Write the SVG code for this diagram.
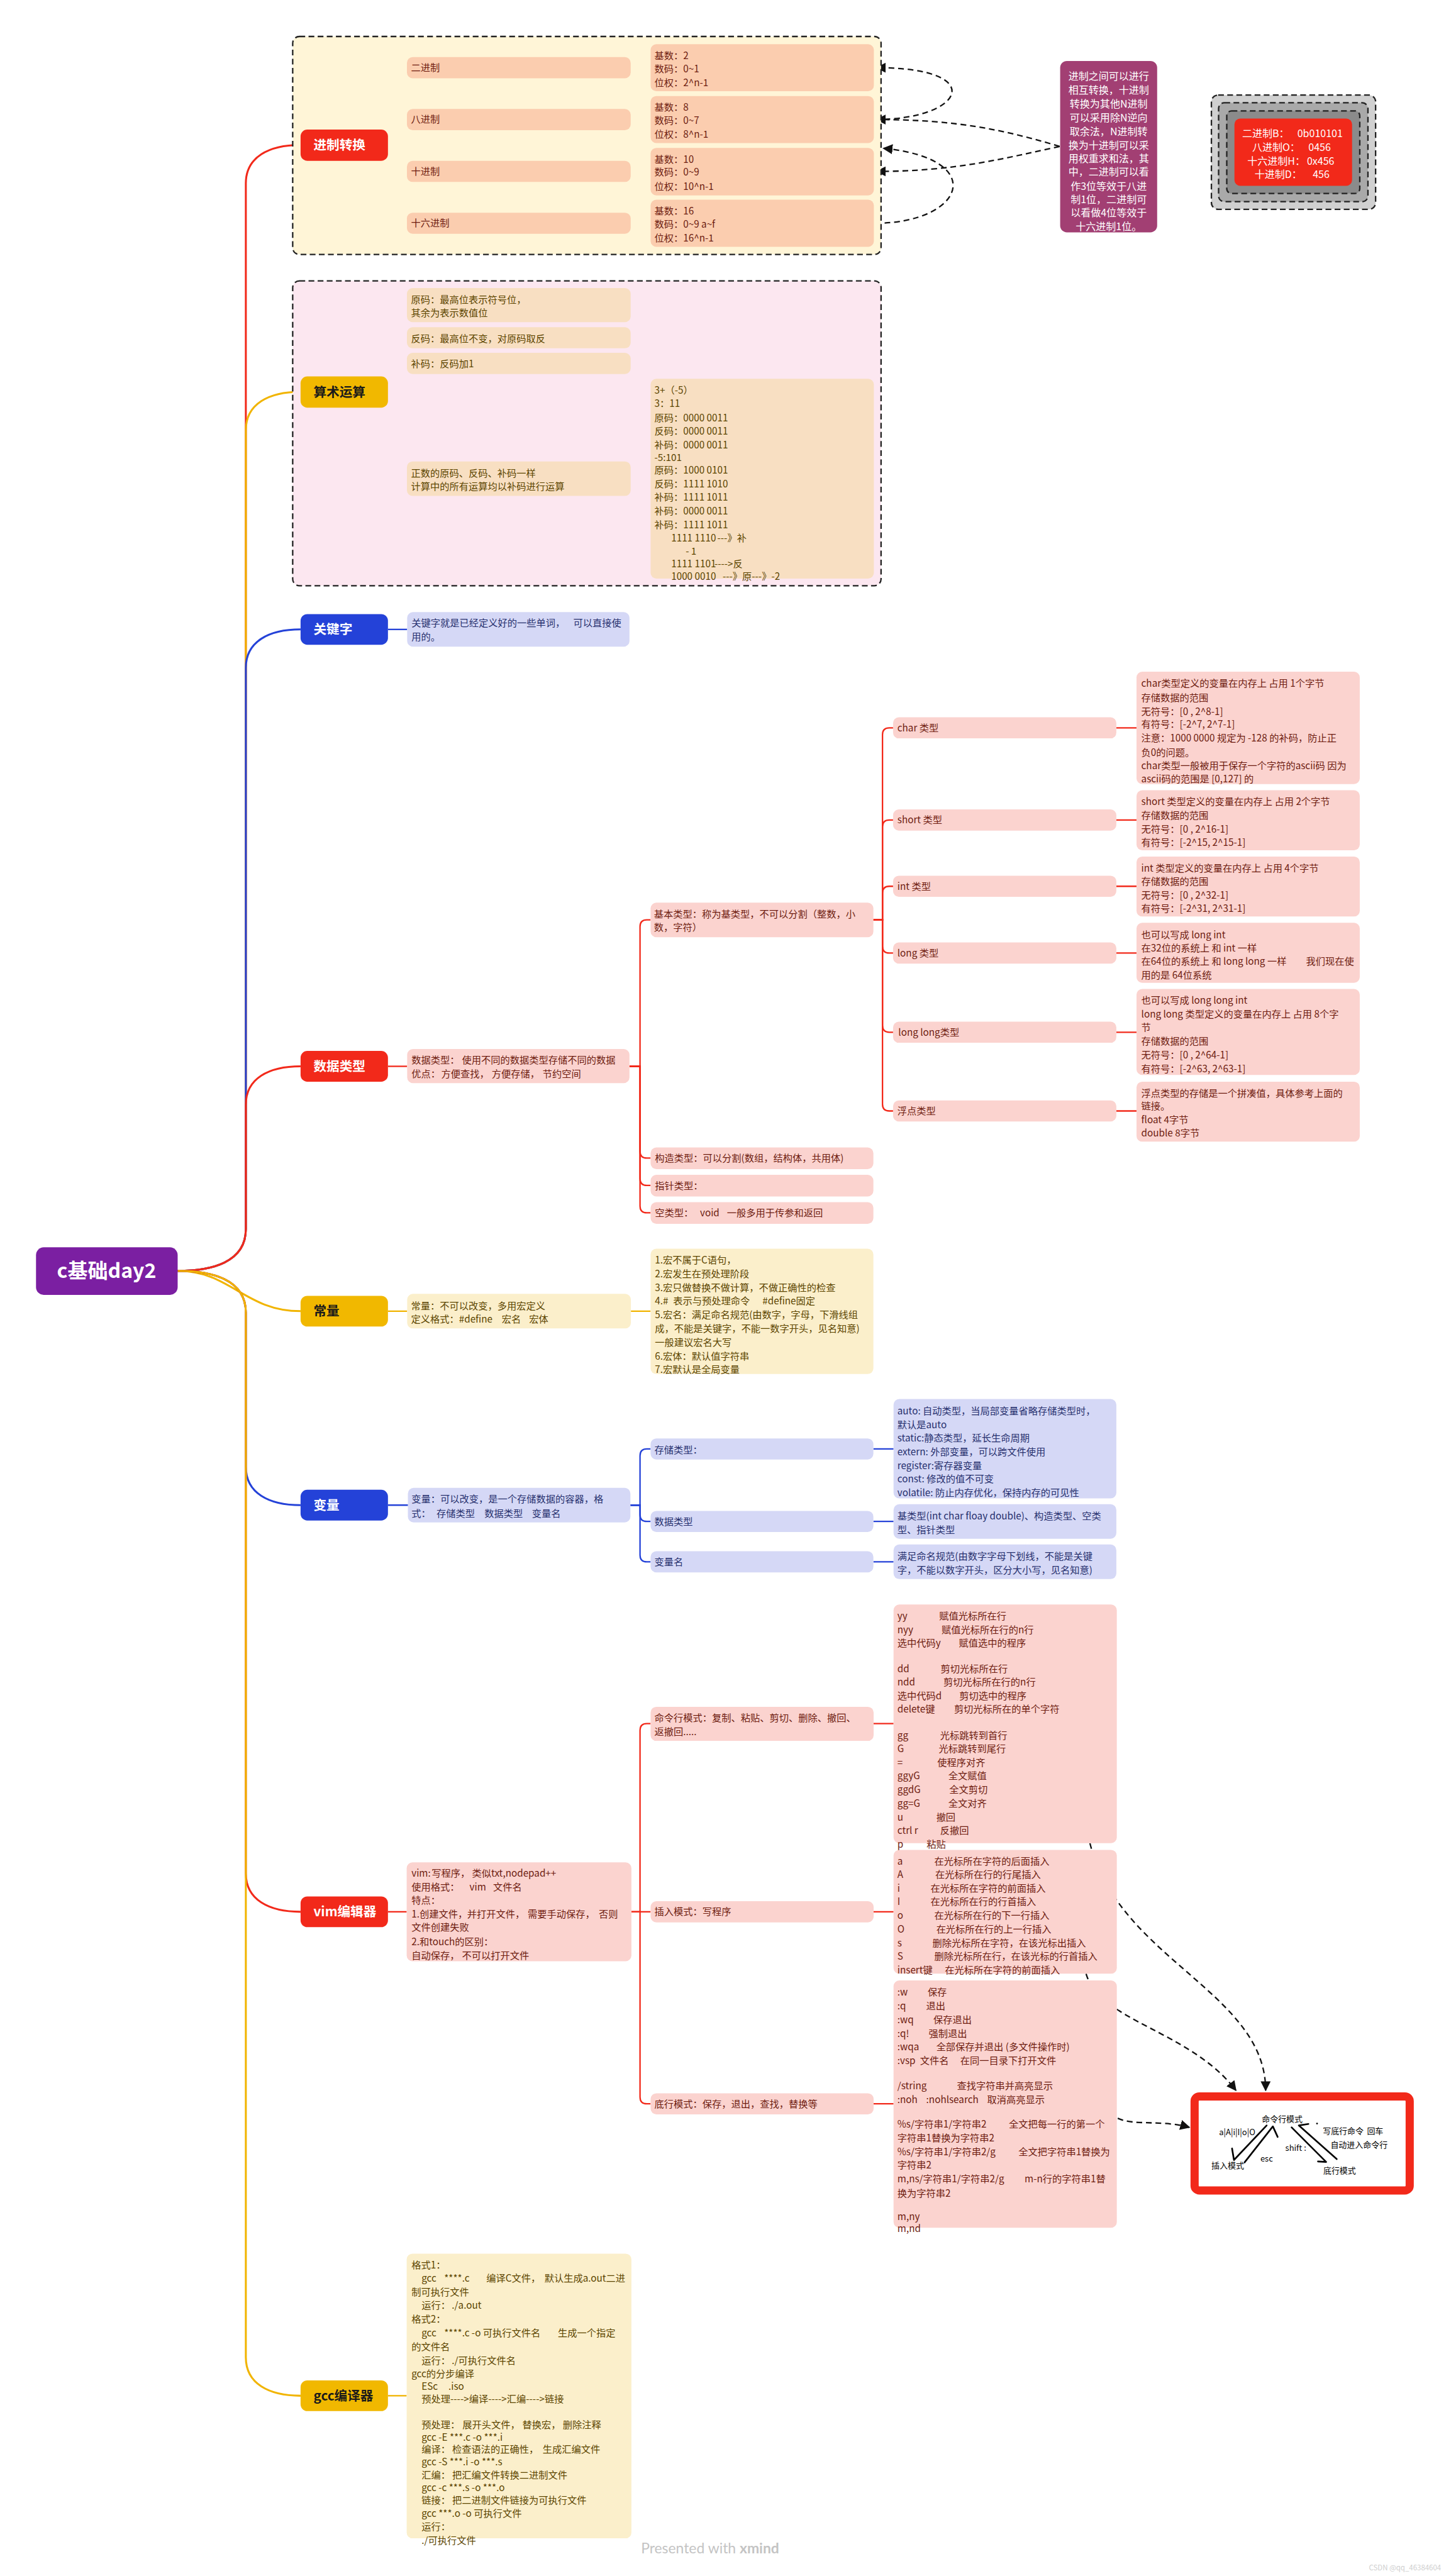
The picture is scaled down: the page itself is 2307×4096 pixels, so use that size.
<svg xmlns="http://www.w3.org/2000/svg" width="2307" height="4096" viewBox="0 0 2307 4096">
<defs>
<style>
text{font-family:"Noto Sans CJK SC","Noto Sans",sans-serif;font-size:20px}
.wr{fill:#6e1c10}.wy{fill:#5c4500}.wb{fill:#27306e}.ww{fill:#ffffff}.wk{fill:#1a1a1a}
.h1{font-size:27px;font-weight:700}
.root{font-size:42px;font-weight:700}
.pu{font-size:21px}
.cR{fill:none;stroke:#f2291a;stroke-width:4}
.cY{fill:none;stroke:#f1b400;stroke-width:4}
.cB{fill:none;stroke:#2442d8;stroke-width:4}
.sR{fill:none;stroke:#f2291a;stroke-width:3}
.sY{fill:none;stroke:#f1b400;stroke-width:3}
.sB{fill:none;stroke:#2442d8;stroke-width:3}
.dash{fill:none;stroke:#111;stroke-width:3;stroke-dasharray:12 8}
.bnd{stroke:#222;stroke-width:3;stroke-dasharray:12 7}
.pe{fill:#fbcdaf}.pt{fill:#f8dfc2}.pk{fill:#fbd3cf}.lv{fill:#d5d8f6}.ly{fill:#fbefcb}
.hand{fill:none;stroke:#000;stroke-width:3.5;stroke-linecap:round;stroke-linejoin:round}
.rb{font-size:17px;fill:#000}
.wm{font-family:Lato,"Noto Sans",sans-serif;font-size:30px;fill:#c4c4c4}
.cs{font-size:15px;fill:#cfcfcf}
</style>
<marker id="ah" viewBox="0 0 10 10" refX="9" refY="5" markerWidth="7" markerHeight="7" orient="auto"><path d="M0,0 L10,5 L0,10 z" fill="#111"/></marker>
</defs>
<rect width="2307" height="4096" fill="#ffffff"/>
<g transform="scale(0.7634)">

<g id="connectors">
<path class="cR" d="M370 2647 C440 2647 512 2630 512 2560 L512 382 C512 327 560 302 626 302"/>
<path class="cY" d="M370 2647 C440 2647 512 2630 512 2560 L512 896 C512 841 560 816 626 816"/>
<path class="cB" d="M370 2647 C440 2647 512 2630 512 2560 L512 1391 C512 1336 560 1311 626 1311"/>
<path class="cR" d="M370 2647 C440 2647 512 2630 512 2560 L512 2301 C512 2246 560 2221 626 2221"/>
<path class="cY" d="M370 2647 C480 2647 510 2731 626 2731"/>
<path class="cB" d="M370 2647 C440 2647 512 2664 512 2734 L512 3055 C512 3110 560 3135 626 3135"/>
<path class="cR" d="M370 2647 C440 2647 512 2664 512 2734 L512 3902 C512 3957 560 3982 626 3982"/>
<path class="cY" d="M370 2647 C440 2647 512 2664 512 2734 L512 4910 C512 4965 560 4990 626 4990"/>
<path class="sR" d="M808 302 H827 V155 Q827 141 841 141 H848"/>
<path class="sR" d="M808 302 H827 V263 Q827 249 841 249 H848"/>
<path class="sR" d="M808 302 H827 V343 Q827 357 841 357 H848"/>
<path class="sR" d="M808 302 H827 V451 Q827 465 841 465 H848"/>
<path class="sR" d="M1313 141 H1355 M1313 249 H1355 M1313 357 H1355 M1313 465 H1355"/>
<path class="sY" d="M808 816 H827 V650 Q827 636 841 636 H848"/>
<path class="sY" d="M808 816 H827 V718 Q827 704 841 704 H848"/>
<path class="sY" d="M808 816 H827 V771 Q827 757 841 757 H848"/>
<path class="sY" d="M808 816 H827 V983 Q827 997 841 997 H848"/>
<path class="sY" d="M1313 997 H1355"/>
<path class="sB" d="M808 1311 H848"/>
<path class="sR" d="M808 2221 H848"/>
<path class="sR" d="M1311 2221 H1333 V1930 Q1333 1916 1347 1916 H1355"/>
<path class="sR" d="M1311 2221 H1333 V2398 Q1333 2412 1347 2412 H1355"/>
<path class="sR" d="M1311 2221 H1333 V2455 Q1333 2469 1347 2469 H1355"/>
<path class="sR" d="M1311 2221 H1333 V2512 Q1333 2526 1347 2526 H1355"/>
<path class="sR" d="M1819 1916 H1838 V1530 Q1838 1516 1852 1516 H1860"/>
<path class="sR" d="M1819 1916 H1838 V1722 Q1838 1708 1852 1708 H1860"/>
<path class="sR" d="M1819 1916 H1838 V1860 Q1838 1846 1852 1846 H1860"/>
<path class="sR" d="M1819 1916 H1838 V1971 Q1838 1985 1852 1985 H1860"/>
<path class="sR" d="M1819 1916 H1838 V2136 Q1838 2150 1852 2150 H1860"/>
<path class="sR" d="M1819 1916 H1838 V2300 Q1838 2314 1852 2314 H1860"/>
<path class="sR" d="M2325 1516 H2367 M2325 1708 H2367 M2325 1846 H2367 M2325 1985 H2367 M2325 2150 H2367 M2325 2314 H2367"/>
<path class="sY" d="M808 2731 H848 M1314 2731 H1355"/>
<path class="sB" d="M808 3135 H850"/>
<path class="sB" d="M1313 3135 H1333 V3032 Q1333 3018 1347 3018 H1355"/>
<path class="sB" d="M1313 3135 H1333 V3155 Q1333 3169 1347 3169 H1355"/>
<path class="sB" d="M1313 3135 H1333 V3239 Q1333 3253 1347 3253 H1355"/>
<path class="sB" d="M1819 3018 H1861 M1819 3169 H1861 M1819 3253 H1861"/>
<path class="sR" d="M808 3982 H847"/>
<path class="sR" d="M1315 3982 H1333 V3604 Q1333 3590 1347 3590 H1355"/>
<path class="sR" d="M1315 3982 H1355"/>
<path class="sR" d="M1315 3982 H1333 V4368 Q1333 4382 1347 4382 H1355"/>
<path class="sR" d="M1819 3590 H1861 M1819 3982 H1861 M1819 4382 H1861"/>
<path class="sY" d="M808 4990 H847"/>
<path class="dash" marker-end="url(#ah)" d="M1822 249 C2010 249 2060 141 1826 141"/>
<path class="dash" marker-end="url(#ah)" d="M2207 305 C2090 270 1990 249 1826 249"/>
<path class="dash" marker-end="url(#ah)" d="M2207 305 C2090 330 1990 357 1826 357"/>
<path class="dash" marker-end="url(#ah)" d="M1822 465 C2010 465 2060 330 1840 309"/>
<path class="dash" marker-end="url(#ah)" d="M2270 3839 C2330 4080 2636 4150 2636 4354"/>
<path class="dash" marker-end="url(#ah)" d="M2262 4111 C2290 4210 2480 4230 2574 4354"/>
<path class="dash" marker-end="url(#ah)" d="M2328 4412 C2360 4428 2420 4415 2477 4431"/>
</g>

<g id="root">
<rect x="75" y="2598" width="295" height="99" rx="16" fill="#7b1fa2"/>
<text x="222" y="2662" text-anchor="middle" class="root ww">c基础day2</text>
</g>

<g id="jinzhi">
<rect x="609.6" y="76" width="1225.4" height="454" rx="14" fill="#fff5d7" class="bnd"/>
<rect x="626" y="270" width="182" height="65" rx="14" fill="#f2291a"/>
<text x="653" y="312" class="h1 ww">进制转换</text>
<rect class="pe" x="847.5" y="119" width="466" height="44" rx="12"/>
<rect class="pe" x="847.5" y="227" width="466" height="44" rx="12"/>
<rect class="pe" x="847.5" y="335" width="466" height="44" rx="12"/>
<rect class="pe" x="847.5" y="443" width="466" height="44" rx="12"/>
<text class="wr" x="856" y="148">二进制</text>
<text class="wr" x="856" y="256">八进制</text>
<text class="wr" x="856" y="364">十进制</text>
<text class="wr" x="856" y="472">十六进制</text>
<rect class="pe" x="1355" y="92" width="465" height="98" rx="12"/>
<rect class="pe" x="1355" y="200" width="465" height="98" rx="12"/>
<rect class="pe" x="1355" y="308" width="465" height="99" rx="12"/>
<rect class="pe" x="1355" y="416" width="465" height="98" rx="12"/>
<text class="wr" x="1363" y="123">基数：2</text>
<text class="wr" x="1363" y="151">数码：0~1</text>
<text class="wr" x="1363" y="179">位权：2^n-1</text>
<text class="wr" x="1363" y="230">基数：8</text>
<text class="wr" x="1363" y="258">数码：0~7</text>
<text class="wr" x="1363" y="287">位权：8^n-1</text>
<text class="wr" x="1363" y="339">基数：10</text>
<text class="wr" x="1363" y="366">数码：0~9</text>
<text class="wr" x="1363" y="395">位权：10^n-1</text>
<text class="wr" x="1363" y="447">基数：16</text>
<text class="wr" x="1363" y="474">数码：0~9 a~f</text>
<text class="wr" x="1363" y="503">位权：16^n-1</text>
</g>

<g id="note-jinzhi">
<rect x="2208" y="127" width="202" height="357" rx="14" fill="#a23f73"/>
<text class="ww pu" x="2309" y="166" text-anchor="middle">进制之间可以进行</text>
<text class="ww pu" x="2309" y="195" text-anchor="middle">相互转换，十进制</text>
<text class="ww pu" x="2309" y="224" text-anchor="middle">转换为其他N进制</text>
<text class="ww pu" x="2309" y="253" text-anchor="middle">可以采用除N逆向</text>
<text class="ww pu" x="2309" y="281" text-anchor="middle">取余法，N进制转</text>
<text class="ww pu" x="2309" y="310" text-anchor="middle">换为十进制可以采</text>
<text class="ww pu" x="2309" y="338" text-anchor="middle">用权重求和法，其</text>
<text class="ww pu" x="2309" y="366" text-anchor="middle">中，二进制可以看</text>
<text class="ww pu" x="2309" y="395" text-anchor="middle">作3位等效于八进</text>
<text class="ww pu" x="2309" y="423" text-anchor="middle">制1位，二进制可</text>
<text class="ww pu" x="2309" y="451" text-anchor="middle">以看做4位等效于</text>
<text class="ww pu" x="2309" y="480" text-anchor="middle">十六进制1位。</text>
</g>

<g id="note-bases">
<rect x="2523" y="198" width="342" height="238" rx="14" fill="#d0d0d0" class="bnd"/>
<rect x="2538" y="214" width="311" height="206" rx="12" fill="#a9a9a9" class="bnd"/>
<rect x="2555" y="231" width="277" height="172" rx="10" fill="#8b8b8b" class="bnd"/>
<rect x="2571" y="247" width="245" height="140" rx="12" fill="#f2291a"/>
<text class="ww pu" y="286"><tspan x="2587">二进制B：</tspan><tspan x="2702">0b010101</tspan></text>
<text class="ww pu" y="314"><tspan x="2608">八进制O：</tspan><tspan x="2725">0456</tspan></text>
<text class="ww pu" y="343"><tspan x="2598">十六进制H：</tspan><tspan x="2722">0x456</tspan></text>
<text class="ww pu" y="371"><tspan x="2613">十进制D：</tspan><tspan x="2734">456</tspan></text>
</g>

<g id="suanshu">
<rect x="609.6" y="585" width="1225.4" height="635" rx="14" fill="#fce7f0" class="bnd"/>
<rect x="626" y="784" width="182" height="65" rx="14" fill="#f1b800"/>
<text x="653" y="826" class="h1 wk">算术运算</text>
<rect class="pt" x="847.5" y="600" width="466" height="71" rx="12"/>
<rect class="pt" x="847.5" y="681.5" width="466" height="44" rx="12"/>
<rect class="pt" x="847.5" y="735" width="466" height="44" rx="12"/>
<rect class="pt" x="847.5" y="961" width="466" height="72" rx="12"/>
<text class="wy" x="856" y="631">原码：最高位表示符号位，</text>
<text class="wy" x="856" y="659">其余为表示数值位</text>
<text class="wy" x="856" y="712">反码：最高位不变，对原码取反</text>
<text class="wy" x="856" y="765">补码：反码加1</text>
<text class="wy" x="856" y="993">正数的原码、反码、补码一样</text>
<text class="wy" x="856" y="1020">计算中的所有运算均以补码进行运算</text>
<rect class="pt" x="1355" y="789" width="465" height="416" rx="12"/>
<text class="wy" x="1363" y="820">3+（-5）</text>
<text class="wy" x="1363" y="848">3：11</text>
<text class="wy" x="1363" y="877">原码：0000 0011</text>
<text class="wy" x="1363" y="905">反码：0000 0011</text>
<text class="wy" x="1363" y="934">补码：0000 0011</text>
<text class="wy" x="1363" y="960">-5:101</text>
<text class="wy" x="1363" y="987">原码：1000 0101</text>
<text class="wy" x="1363" y="1015">反码：1111 1010</text>
<text class="wy" x="1363" y="1043">补码：1111 1011</text>
<text class="wy" x="1363" y="1072">补码：0000 0011</text>
<text class="wy" x="1363" y="1100">补码：1111 1011</text>
<text class="wy" y="1128"><tspan x="1398">1111 1110</tspan><tspan x="1494">---》补</tspan></text>
<text class="wy" x="1428" y="1155">- 1</text>
<text class="wy" y="1182"><tspan x="1398">1111 1101</tspan><tspan x="1488">----&gt;反</tspan></text>
<text class="wy" y="1208"><tspan x="1398">1000 0010</tspan><tspan x="1505">---》原---》-2</tspan></text>
</g>

<g id="guanjianzi">
<rect x="626" y="1279" width="182" height="64" rx="14" fill="#2442d8"/>
<text x="653" y="1321" class="h1 ww">关键字</text>
<rect class="lv" x="848" y="1275" width="463" height="72" rx="12"/>
<text class="wb" y="1305"><tspan x="857">关键字就是已经定义好的一些单词，</tspan><tspan x="1194">可以直接使</tspan></text>
<text class="wb" x="857" y="1334">用的。</text>
</g>

<g id="shujuleixing">
<rect x="626" y="2189" width="182" height="64" rx="14" fill="#f2291a"/>
<text x="653" y="2231" class="h1 ww">数据类型</text>
<rect class="pk" x="848" y="2185" width="463" height="71" rx="12"/>
<text class="wr" y="2215"><tspan x="857">数据类型：</tspan><tspan x="962">使用不同的数据类型存储不同的数据</tspan></text>
<text class="wr" y="2244"><tspan x="857">优点：</tspan><tspan x="919">方便查找，</tspan><tspan x="1024">方便存储，</tspan><tspan x="1130">节约空间</tspan></text>
<rect class="pk" x="1355" y="1880" width="464" height="72" rx="12"/>
<text class="wr" x="1362" y="1911">基本类型：称为基类型，不可以分割（整数，小</text>
<text class="wr" x="1362" y="1939">数，字符）</text>
<rect class="pk" x="1355" y="2390" width="464" height="45" rx="12"/>
<text class="wr" x="1364" y="2420">构造类型：可以分割(数组，结构体，共用体)</text>
<rect class="pk" x="1355" y="2447" width="464" height="45" rx="12"/>
<text class="wr" x="1364" y="2477">指针类型：</text>
<rect class="pk" x="1355" y="2504" width="464" height="45" rx="12"/>
<text class="wr" y="2534"><tspan x="1364">空类型：</tspan><tspan x="1458">void</tspan><tspan x="1514">一般多用于传参和返回</tspan></text>

<rect class="pk" x="1860" y="1494" width="465" height="44" rx="12"/>
<text class="wr" x="1869" y="1523">char 类型</text>
<rect class="pk" x="1860" y="1686" width="465" height="44" rx="12"/>
<text class="wr" x="1869" y="1715">short 类型</text>
<rect class="pk" x="1860" y="1824" width="465" height="44" rx="12"/>
<text class="wr" x="1869" y="1853">int 类型</text>
<rect class="pk" x="1860" y="1963" width="465" height="44" rx="12"/>
<text class="wr" x="1869" y="1992">long 类型</text>
<rect class="pk" x="1860" y="2128" width="465" height="44" rx="12"/>
<text class="wr" x="1871" y="2157">long long类型</text>
<rect class="pk" x="1860" y="2292" width="465" height="44" rx="12"/>
<text class="wr" x="1869" y="2321">浮点类型</text>

<rect class="pk" x="2367" y="1399" width="465" height="234" rx="12"/>
<text class="wr" x="2377" y="1430">char类型定义的变量在内存上 占用 1个字节</text>
<text class="wr" x="2377" y="1460">存储数据的范围</text>
<text class="wr" x="2377" y="1489">无符号：[0 , 2^8-1]</text>
<text class="wr" x="2377" y="1516">有符号：[-2^7, 2^7-1]</text>
<text class="wr" x="2377" y="1545">注意：1000 0000 规定为 -128 的补码，防止正</text>
<text class="wr" x="2377" y="1574">负0的问题。</text>
<text class="wr" x="2377" y="1602">char类型一般被用于保存一个字符的ascii码 因为</text>
<text class="wr" x="2377" y="1630">ascii码的范围是 [0,127] 的</text>
<rect class="pk" x="2367" y="1646" width="465" height="125" rx="12"/>
<text class="wr" x="2377" y="1677">short 类型定义的变量在内存上 占用 2个字节</text>
<text class="wr" x="2377" y="1705">存储数据的范围</text>
<text class="wr" x="2377" y="1734">无符号：[0 , 2^16-1]</text>
<text class="wr" x="2377" y="1762">有符号：[-2^15, 2^15-1]</text>
<rect class="pk" x="2367" y="1784" width="465" height="125" rx="12"/>
<text class="wr" x="2377" y="1815">int 类型定义的变量在内存上 占用 4个字节</text>
<text class="wr" x="2377" y="1843">存储数据的范围</text>
<text class="wr" x="2377" y="1872">无符号：[0 , 2^32-1]</text>
<text class="wr" x="2377" y="1900">有符号：[-2^31, 2^31-1]</text>
<rect class="pk" x="2367" y="1922" width="465" height="125" rx="12"/>
<text class="wr" x="2377" y="1954">也可以写成 long int</text>
<text class="wr" x="2377" y="1982">在32位的系统上 和 int 一样</text>
<text class="wr" y="2010"><tspan x="2377">在64位的系统上 和 long long 一样</tspan><tspan x="2720">我们现在使</tspan></text>
<text class="wr" x="2377" y="2038">用的是 64位系统</text>
<rect class="pk" x="2367" y="2060" width="465" height="179" rx="12"/>
<text class="wr" x="2377" y="2091">也可以写成 long long int</text>
<text class="wr" x="2377" y="2119">long long 类型定义的变量在内存上 占用 8个字</text>
<text class="wr" x="2377" y="2147">节</text>
<text class="wr" x="2377" y="2176">存储数据的范围</text>
<text class="wr" x="2377" y="2205">无符号：[0 , 2^64-1]</text>
<text class="wr" x="2377" y="2233">有符号：[-2^63, 2^63-1]</text>
<rect class="pk" x="2367" y="2253" width="465" height="125" rx="12"/>
<text class="wr" x="2377" y="2284">浮点类型的存储是一个拼凑值，具体参考上面的</text>
<text class="wr" x="2377" y="2311">链接。</text>
<text class="wr" x="2377" y="2340">float 4字节</text>
<text class="wr" x="2377" y="2367">double 8字节</text>
</g>

<g id="changliang">
<rect x="626" y="2699" width="182" height="64" rx="14" fill="#f1b800"/>
<text x="653" y="2741" class="h1 wk">常量</text>
<rect class="ly" x="848" y="2695" width="466" height="72" rx="12"/>
<text class="wy" x="856" y="2727">常量：不可以改变，多用宏定义</text>
<text class="wy" y="2755"><tspan x="856">定义格式：#define</tspan><tspan x="1045">宏名</tspan><tspan x="1102">宏体</tspan></text>
<rect class="ly" x="1355" y="2601" width="464" height="261" rx="12"/>
<text class="wy" x="1364" y="2632">1.宏不属于C语句，</text>
<text class="wy" x="1364" y="2660">2.宏发生在预处理阶段</text>
<text class="wy" x="1364" y="2689">3.宏只做替换不做计算，不做正确性的检查</text>
<text class="wy" y="2717"><tspan x="1364">4.#</tspan><tspan x="1402">表示与预处理命令</tspan><tspan x="1588">#define固定</tspan></text>
<text class="wy" x="1364" y="2745">5.宏名：满足命名规范(由数字，字母，下滑线组</text>
<text class="wy" x="1364" y="2774">成，不能是关键字，不能一数字开头，见名知意)</text>
<text class="wy" x="1364" y="2803">一般建议宏名大写</text>
<text class="wy" x="1364" y="2832">6.宏体：默认值字符串</text>
<text class="wy" x="1364" y="2860">7.宏默认是全局变量</text>
</g>

<g id="bianliang">
<rect x="626" y="3103" width="182" height="64" rx="14" fill="#2442d8"/>
<text x="653" y="3145" class="h1 ww">变量</text>
<rect class="lv" x="849.5" y="3099" width="463.5" height="72" rx="12"/>
<text class="wb" x="857" y="3130">变量：可以改变，是一个存储数据的容器，格</text>
<text class="wb" y="3159"><tspan x="857">式：</tspan><tspan x="909">存储类型</tspan><tspan x="1009">数据类型</tspan><tspan x="1108">变量名</tspan></text>
<rect class="lv" x="1355" y="2996" width="464" height="44" rx="12"/>
<text class="wb" x="1363" y="3027">存储类型：</text>
<rect class="lv" x="1355" y="3147" width="464" height="44" rx="12"/>
<text class="wb" x="1363" y="3177">数据类型</text>
<rect class="lv" x="1355" y="3231" width="464" height="44" rx="12"/>
<text class="wb" x="1363" y="3261">变量名</text>
<rect class="lv" x="1861" y="2914" width="464" height="207" rx="12"/>
<text class="wb" x="1869" y="2946">auto: 自动类型，当局部变量省略存储类型时，</text>
<text class="wb" x="1869" y="2975">默认是auto</text>
<text class="wb" x="1869" y="3003">static:静态类型，延长生命周期</text>
<text class="wb" x="1869" y="3031">extern: 外部变量，可以跨文件使用</text>
<text class="wb" x="1869" y="3060">register:寄存器变量</text>
<text class="wb" x="1869" y="3088">const: 修改的值不可变</text>
<text class="wb" x="1869" y="3116">volatile: 防止内存优化，保持内存的可见性</text>
<rect class="lv" x="1861" y="3133" width="464" height="72" rx="12"/>
<text class="wb" x="1869" y="3165">基类型(int char floay double)、构造类型、空类</text>
<text class="wb" x="1869" y="3193">型、指针类型</text>
<rect class="lv" x="1861" y="3217" width="464" height="72" rx="12"/>
<text class="wb" x="1869" y="3249">满足命名规范(由数字字母下划线，不能是关键</text>
<text class="wb" x="1869" y="3277">字，不能以数字开头，区分大小写，见名知意)</text>
</g>

<g id="vim">
<rect x="626" y="3950" width="182" height="64" rx="14" fill="#f2291a"/>
<text x="653" y="3992" class="h1 ww">vim编辑器</text>
<rect class="pk" x="847" y="3879" width="468" height="206" rx="12"/>
<text class="wr" y="3909"><tspan x="857">vim:</tspan><tspan x="899">写程序，</tspan><tspan x="983">类似txt,nodepad++</tspan></text>
<text class="wr" y="3937"><tspan x="857">使用格式：</tspan><tspan x="978">vim</tspan><tspan x="1027">文件名</tspan></text>
<text class="wr" x="857" y="3965">特点：</text>
<text class="wr" y="3994"><tspan x="857">1.创建文件，</tspan><tspan x="973">并打开文件，</tspan><tspan x="1099">需要手动保存，</tspan><tspan x="1247">否则</tspan></text>
<text class="wr" x="857" y="4022">文件创建失败</text>
<text class="wr" x="857" y="4052">2.和touch的区别：</text>
<text class="wr" y="4081"><tspan x="857">自动保存，</tspan><tspan x="962">不可以打开文件</tspan></text>

<rect class="pk" x="1355" y="3555" width="464.5" height="71" rx="12"/>
<text class="wr" x="1363" y="3585">命令行模式：复制、粘贴、剪切、删除、撤回、</text>
<text class="wr" x="1363" y="3614">返撤回.....</text>
<rect class="pk" x="1355" y="3960" width="464.5" height="44" rx="12"/>
<text class="wr" x="1363" y="3989">插入模式：写程序</text>
<rect class="pk" x="1355" y="4360" width="464.5" height="44" rx="12"/>
<text class="wr" x="1363" y="4389">底行模式：保存，退出，查找，替换等</text>

<rect class="pk" x="1861" y="3342" width="465" height="497" rx="12"/>
<text class="wr" y="3373"><tspan x="1869">yy</tspan><tspan x="1956">赋值光标所在行</tspan></text>
<text class="wr" y="3402"><tspan x="1869">nyy</tspan><tspan x="1961">赋值光标所在行的n行</tspan></text>
<text class="wr" y="3430"><tspan x="1869">选中代码y</tspan><tspan x="1997">赋值选中的程序</tspan></text>
<text class="wr" y="3483"><tspan x="1869">dd</tspan><tspan x="1959">剪切光标所在行</tspan></text>
<text class="wr" y="3511"><tspan x="1869">ndd</tspan><tspan x="1965">剪切光标所在行的n行</tspan></text>
<text class="wr" y="3540"><tspan x="1869">选中代码d</tspan><tspan x="1998">剪切选中的程序</tspan></text>
<text class="wr" y="3567"><tspan x="1869">delete键</tspan><tspan x="1987">剪切光标所在的单个字符</tspan></text>
<text class="wr" y="3622"><tspan x="1869">gg</tspan><tspan x="1958">光标跳转到首行</tspan></text>
<text class="wr" y="3650"><tspan x="1869">G</tspan><tspan x="1955">光标跳转到尾行</tspan></text>
<text class="wr" y="3678"><tspan x="1869">=</tspan><tspan x="1952">使程序对齐</tspan></text>
<text class="wr" y="3706"><tspan x="1869">ggyG</tspan><tspan x="1975">全文赋值</tspan></text>
<text class="wr" y="3735"><tspan x="1869">ggdG</tspan><tspan x="1977">全文剪切</tspan></text>
<text class="wr" y="3763"><tspan x="1869">gg=G</tspan><tspan x="1975">全文对齐</tspan></text>
<text class="wr" y="3792"><tspan x="1869">u</tspan><tspan x="1950">撤回</tspan></text>
<text class="wr" y="3820"><tspan x="1869">ctrl r</tspan><tspan x="1958">反撤回</tspan></text>
<text class="wr" y="3849"><tspan x="1869">p</tspan><tspan x="1930">粘贴</tspan></text>

<rect class="pk" x="1861" y="3853" width="465" height="258" rx="12"/>
<text class="wr" y="3884"><tspan x="1869">a</tspan><tspan x="1946">在光标所在字符的后面插入</tspan></text>
<text class="wr" y="3912"><tspan x="1869">A</tspan><tspan x="1948">在光标所在行的行尾插入</tspan></text>
<text class="wr" y="3940"><tspan x="1869">i</tspan><tspan x="1938">在光标所在字符的前面插入</tspan></text>
<text class="wr" y="3968"><tspan x="1869">I</tspan><tspan x="1938">在光标所在行的行首插入</tspan></text>
<text class="wr" y="3997"><tspan x="1869">o</tspan><tspan x="1946">在光标所在行的下一行插入</tspan></text>
<text class="wr" y="4026"><tspan x="1869">O</tspan><tspan x="1950">在光标所在行的上一行插入</tspan></text>
<text class="wr" y="4054"><tspan x="1869">s</tspan><tspan x="1942">删除光标所在字符，在该光标出插入</tspan></text>
<text class="wr" y="4082"><tspan x="1869">S</tspan><tspan x="1946">删除光标所在行，在该光标的行首插入</tspan></text>
<text class="wr" y="4111"><tspan x="1869">insert键</tspan><tspan x="1968">在光标所在字符的前面插入</tspan></text>

<rect class="pk" x="1861" y="4125" width="465" height="515" rx="12"/>
<text class="wr" y="4157"><tspan x="1869">:w</tspan><tspan x="1932">保存</tspan></text>
<text class="wr" y="4185"><tspan x="1869">:q</tspan><tspan x="1929">退出</tspan></text>
<text class="wr" y="4214"><tspan x="1869">:wq</tspan><tspan x="1944">保存退出</tspan></text>
<text class="wr" y="4243"><tspan x="1869">:q!</tspan><tspan x="1934">强制退出</tspan></text>
<text class="wr" y="4270"><tspan x="1869">:wqa</tspan><tspan x="1950">全部保存并退出 (多文件操作时)</tspan></text>
<text class="wr" y="4299"><tspan x="1869">:vsp</tspan><tspan x="1916">文件名</tspan><tspan x="2000">在同一目录下打开文件</tspan></text>
<text class="wr" y="4351"><tspan x="1869">/string</tspan><tspan x="1993">查找字符串并高亮显示</tspan></text>
<text class="wr" y="4380"><tspan x="1869">:noh</tspan><tspan x="1929">:nohlsearch</tspan><tspan x="2056">取消高亮显示</tspan></text>
<text class="wr" y="4432"><tspan x="1869">%s/字符串1/字符串2</tspan><tspan x="2101">全文把每一行的第一个</tspan></text>
<text class="wr" x="1869" y="4460">字符串1替换为字符串2</text>
<text class="wr" y="4489"><tspan x="1869">%s/字符串1/字符串2/g</tspan><tspan x="2121">全文把字符串1替换为</tspan></text>
<text class="wr" x="1869" y="4517">字符串2</text>
<text class="wr" y="4546"><tspan x="1869">m,ns/字符串1/字符串2/g</tspan><tspan x="2134">m-n行的字符串1替</tspan></text>
<text class="wr" x="1869" y="4575">换为字符串2</text>
<text class="wr" x="1869" y="4624">m,ny</text>
<text class="wr" x="1869" y="4649">m,nd</text>
</g>

<g id="vim-modes">
<rect x="2488" y="4366.5" width="448" height="196" rx="10" fill="#ffffff" stroke="#f2291a" stroke-width="17"/>
<text class="rb" x="2628" y="4420">命令行模式</text>
<text class="rb" x="2539" y="4447">a|A|i|I|o|O</text>
<text class="rb" x="2523" y="4517">插入模式</text>
<text class="rb" x="2625" y="4502">esc</text>
<text class="rb" x="2677" y="4480">shift :</text>
<text class="rb" y="4444"><tspan x="2755">写底行命令</tspan><tspan x="2847">回车</tspan></text>
<text class="rb" x="2771" y="4473">自动进入命令行</text>
<text class="rb" x="2756" y="4527">底行模式</text>
<circle cx="2743" cy="4423" r="1.8" fill="#000"/>
<path class="hand" d="M2638 4427 L2570 4499 M2566 4475 L2570 4499"/>
<path class="hand" d="M2592 4504 L2651 4429 L2661 4451"/>
<path class="hand" d="M2690 4431 L2762 4503 L2745 4502"/>
<path class="hand" d="M2784 4497 L2705 4427 L2725 4424"/>
</g>

<g id="gcc">
<rect x="626" y="4958" width="182" height="64" rx="14" fill="#f1b800"/>
<text x="653" y="5000" class="h1 wk">gcc编译器</text>
<rect class="ly" x="847" y="4694" width="468" height="593" rx="12"/>
<text class="wy" x="857" y="4725">格式1：</text>
<text class="wy" y="4753"><tspan x="878">gcc</tspan><tspan x="925">****.c</tspan><tspan x="1013">编译C文件，</tspan><tspan x="1134">默认生成a.out二进</tspan></text>
<text class="wy" x="857" y="4781">制可执行文件</text>
<text class="wy" y="4809"><tspan x="878">运行：</tspan><tspan x="941">./a.out</tspan></text>
<text class="wy" x="857" y="4837">格式2：</text>
<text class="wy" y="4867"><tspan x="878">gcc</tspan><tspan x="925">****.c  -o 可执行文件名</tspan><tspan x="1162">生成一个指定</tspan></text>
<text class="wy" x="857" y="4895">的文件名</text>
<text class="wy" y="4924"><tspan x="878">运行：</tspan><tspan x="941">./可执行文件名</tspan></text>
<text class="wy" x="857" y="4952">gcc的分步编译</text>
<text class="wy" y="4978"><tspan x="878">ESc</tspan><tspan x="934">.iso</tspan></text>
<text class="wy" x="878" y="5004">预处理----&gt;编译----&gt;汇编----&gt;链接</text>
<text class="wy" y="5058"><tspan x="878">预处理：</tspan><tspan x="963">展开头文件，</tspan><tspan x="1088">替换宏，</tspan><tspan x="1172">删除注释</tspan></text>
<text class="wy" x="878" y="5084">gcc -E ***.c -o ***.i</text>
<text class="wy" y="5109"><tspan x="878">编译：</tspan><tspan x="942">检查语法的正确性，</tspan><tspan x="1130">生成汇编文件</tspan></text>
<text class="wy" x="878" y="5135">gcc -S ***.i -o ***.s</text>
<text class="wy" y="5163"><tspan x="878">汇编：</tspan><tspan x="942">把汇编文件转换二进制文件</tspan></text>
<text class="wy" x="878" y="5189">gcc -c ***.s -o ***.o</text>
<text class="wy" y="5215"><tspan x="878">链接：</tspan><tspan x="942">把二进制文件链接为可执行文件</tspan></text>
<text class="wy" x="878" y="5242">gcc ***.o -o 可执行文件</text>
<text class="wy" x="878" y="5270">运行：</text>
<text class="wy" x="878" y="5299">./可执行文件</text>
</g>

<g id="footer">
<text class="wm" x="1335" y="5318">Presented with <tspan font-weight="700">xmind</tspan></text>
<text class="cs" x="2851" y="5354">CSDN @qq_46384604</text>
</g>

</g>
</svg>
